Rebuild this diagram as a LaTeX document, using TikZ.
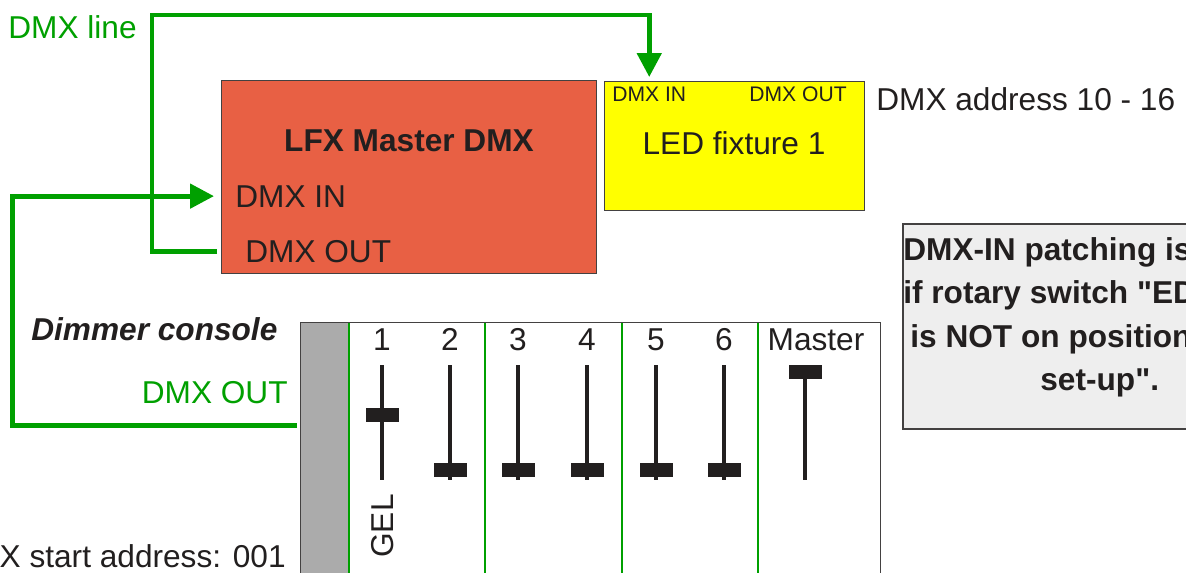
\documentclass[tikz,border=0pt]{standalone}
\usepackage{fontspec}
\setmainfont{Liberation Sans}[Ligatures=TeXOff]
\usetikzlibrary{arrows.meta}
\definecolor{wire}{RGB}{0,160,0}
\definecolor{lfxred}{RGB}{232,96,68}
\definecolor{ledyellow}{RGB}{255,255,0}
\definecolor{notegray}{RGB}{238,238,238}
\definecolor{stripgray}{RGB}{171,171,171}
\definecolor{ink}{RGB}{34,31,31}
\begin{document}
\begin{tikzpicture}[x=0.02cm,y=-0.02cm,
  txt/.style={inner sep=0pt,font=\fontsize{18}{21.6}\selectfont,text=ink},
  smalltxt/.style={inner sep=0pt,font=\fontsize{12}{14}\selectfont,text=ink},
  gtxt/.style={txt,text=wire},
  box/.style={draw=ink!85,line width=0.8pt,inner sep=0pt,anchor=north west},
  wireline/.style={draw=wire,line width=2.8pt},
  arr/.style={-{Triangle[length=13.6pt,width=13.6pt]}},
  divider/.style={draw=wire,line width=1.1pt},
  track/.style={draw=ink,line width=2pt},
  knob/.style={fill=ink,inner sep=0pt,minimum width=0.66cm,minimum height=0.28cm}]
\useasboundingbox (0,0) rectangle (1186,572);
\clip (0,0) rectangle (1186,572);

% LFX master box
\node[box,fill=lfxred,minimum width=7.5cm,minimum height=3.86cm] (lfx) at (221,80) {};
\node[txt,anchor=base,font=\fontsize{18}{21.6}\selectfont\bfseries] (lfxtitle) at (409,151) {LFX Master DMX};
\node[txt,anchor=base west] (lfxin) at (235,207) {DMX IN};
\node[txt,anchor=base west] (lfxout) at (245,262) {DMX OUT};

% LED fixture
\node[box,fill=ledyellow,minimum width=5.2cm,minimum height=2.58cm] (led) at (604,81) {};
\node[smalltxt,anchor=base west] (ledin) at (612,101) {DMX IN};
\node[smalltxt,anchor=base east] (ledout) at (847,101) {DMX OUT};
\node[txt,anchor=base] (ledname) at (734,154) {LED fixture 1};
\node[txt,anchor=base west] (ledaddr) at (876,110) {DMX address 10 - 16};

% note
\node[box,fill=notegray,line width=1pt,minimum width=6cm,minimum height=4.1cm] (note) at (902,223) {};
\node[txt,anchor=north west,align=left,font=\fontsize{18}{24.7}\selectfont\bfseries] (notetext) at (903,237)
  {DMX-IN patching is only\\if rotary switch "EDIT"\\\hspace*{4pt}is NOT on position "DMX\\\hspace*{78pt}set-up".};

% labels
\node[gtxt,anchor=base west] (dmxline) at (8,38) {DMX line};
\node[txt,anchor=base west,font=\fontsize{18}{21.6}\selectfont\bfseries\itshape] (dimmer) at (31,340) {Dimmer console};
\node[gtxt,anchor=base east] (conoutlbl) at (288,403) {DMX OUT};
\node[txt,anchor=base east] (startaddr) at (286,567) {DMX start address: 001};

% console
\node[box,fill=white,minimum width=11.6cm,minimum height=5.6cm] (console) at (300,322) {};
\node[box,fill=stripgray,minimum width=0.96cm,minimum height=5.6cm] (strip) at (300,322) {};
\foreach \x in {349,485,622,758} \draw[divider] (\x,323) -- (\x,580);

\foreach \n/\x/\k in {1/382/415,2/450/470,3/518/470,4/587/470,5/656/470,6/724/470}{
  \node[txt,anchor=base] (ch\n) at (\x,350) {\n};
  \draw[track] (\x,365) -- (\x,480);
  \node[knob] (knob\n) at (\x,\k) {};
}
\node[txt,anchor=base] (chM) at (816,350) {Master};
\draw[track] (805,365) -- (805,480);
\node[knob] (knobM) at (805,372) {};
\node[txt,anchor=base west,rotate=90] (gel) at (393,558) {GEL};

% wires
\coordinate (topbend) at (152,15);
\draw[wireline,arr] ([xshift=-0.08cm]lfx.west |- lfxout) -| (topbend) -| ([yshift=0.08cm]ledin |- led.north);
\coordinate (conout) at (297,425.5);
\coordinate (conbend) at (12.5,425.5);
\draw[wireline,arr] (conout) -- (conbend) |- ([xshift=-0.14cm]lfx.west |- lfxin);
\end{tikzpicture}
\end{document}
